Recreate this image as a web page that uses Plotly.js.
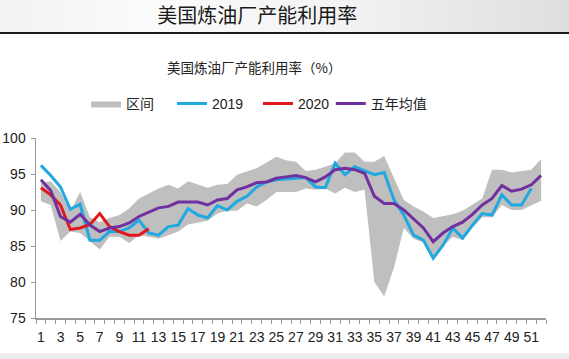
<!DOCTYPE html>
<html>
<head>
<meta charset="utf-8">
<script src="https://cdn.plot.ly/plotly-3.0.1.min.js"></script>
<style>
  html, body { margin: 0; padding: 0; background: #ffffff; }
  #wrap { position: relative; width: 569px; height: 359px; overflow: hidden; background: #ffffff; }
  #band { position: absolute; left: 0; top: 0; width: 569px; height: 32px;
          background: linear-gradient(to right, #f2f2f2 0%, #fbfbfb 25%, #f3f3f3 60%, #dedede 100%);
          border-bottom: 2px solid #1a1a1a; }
  #foot { position: absolute; left: 0; top: 353px; width: 569px; height: 6px; background: #ececec; }
  #chart { position: absolute; left: 0; top: 0; width: 569px; height: 359px; }
</style>
</head>
<body>
<div id="wrap">
  <div id="band"></div>
  <div id="foot"></div>
  <div id="chart"></div>
</div>
<script>
const weeks = [1,2,3,4,5,6,7,8,9,10,11,12,13,14,15,16,17,18,19,20,21,22,23,24,25,26,
               27,28,29,30,31,32,33,34,35,36,37,38,39,40,41,42,43,44,45,46,47,48,49,50,51,52];
const xTickLabels = [1,3,5,7,9,11,13,15,17,19,21,23,25,27,29,31,33,35,37,39,41,43,45,47,49,51];

const rangeUpper = [93.8,94.0,92.5,89.8,92.5,89.0,88.3,88.9,89.3,90.2,91.6,92.3,93.0,93.5,93.0,94.0,93.5,93.1,93.5,93.6,
                    94.9,95.4,95.8,96.6,97.4,96.9,96.7,95.4,95.6,96.0,96.5,98.0,98.0,96.7,96.7,97.5,94.4,91.4,90.5,89.8,
                    88.9,89.2,89.4,89.9,90.7,91.6,95.6,95.6,95.2,95.4,95.6,97.1];
const rangeLower = [91.2,90.7,85.7,87.0,86.8,85.6,84.5,86.3,86.3,85.4,86.5,86.3,86.0,86.5,87.0,88.0,88.3,88.5,89.5,89.9,
                    89.9,90.9,90.5,91.4,92.5,92.5,92.5,93.0,92.8,93.0,92.3,93.1,92.5,92.8,80.0,78.0,82.0,87.5,86.0,85.5,
                    83.0,85.0,86.3,85.8,87.5,89.0,89.0,90.7,90.0,90.0,90.7,91.3];
const y2019 = [96.2,94.8,93.2,90.1,90.8,85.8,85.8,87.0,87.0,87.5,88.6,86.8,86.5,87.7,87.9,90.2,89.3,88.9,90.6,90.0,
               91.2,91.9,93.2,93.9,94.2,94.3,94.4,94.5,93.2,93.1,96.5,94.9,96.0,95.4,94.9,95.2,91.4,89.3,86.5,85.8,
               83.3,85.1,87.5,86.1,87.9,89.5,89.3,92.1,90.7,90.7,93.0,null];
const y2020 = [93.1,92.1,90.7,87.3,87.5,88.0,89.5,87.7,87.0,86.5,86.5,87.4];
const yAvg5 = [94.2,92.7,89.1,88.3,89.4,87.9,87.0,87.5,87.7,88.2,89.1,89.7,90.3,90.5,91.1,91.1,91.1,90.7,91.4,91.6,
               92.8,93.2,93.8,93.9,94.4,94.6,94.8,94.5,93.9,94.6,95.6,95.8,95.6,95.1,91.9,90.9,90.9,90.0,88.7,87.5,
               85.6,86.8,87.7,88.3,89.4,90.7,91.6,93.4,92.6,92.9,93.5,94.8];

const names = ['区间', '2019', '2020', '五年均值'];
const colors = { band: '#bfbfbf', y2019: '#20a9e0', y2020: '#e2181f', avg: '#7030a0' };

const traces = [
  { x: weeks, y: rangeLower, type: 'scatter', mode: 'lines', line: { width: 0, color: colors.band },
    showlegend: false, hoverinfo: 'skip' },
  { x: weeks, y: rangeUpper, type: 'scatter', mode: 'lines', line: { width: 0, color: colors.band },
    fill: 'tonexty', fillcolor: colors.band, name: names[0] },
  { x: weeks, y: y2019, type: 'scatter', mode: 'lines', line: { width: 3, color: colors.y2019 }, name: names[1] },
  { x: weeks.slice(0, y2020.length), y: y2020, type: 'scatter', mode: 'lines', line: { width: 3, color: colors.y2020 }, name: names[2] },
  { x: weeks, y: yAvg5, type: 'scatter', mode: 'lines', line: { width: 3, color: colors.avg }, name: names[3], legend: 'legend2' }
];

const tickFont = { family: 'Liberation Sans, Arial, sans-serif', size: 14, color: '#222' };
const legendFont = { family: 'Liberation Sans, Noto Sans CJK SC, sans-serif', size: 14, color: '#222' };

const layout = {
  width: 569, height: 359,
  margin: { l: 36, r: 23, t: 138, b: 41, pad: 0 },
  paper_bgcolor: 'rgba(0,0,0,0)',
  plot_bgcolor: 'rgba(0,0,0,0)',
  title: {
    text: '美国炼油厂产能利用率',
    font: { family: 'Noto Sans CJK SC, sans-serif', size: 20, color: '#1a1a1a' },
    x: 0.452, xref: 'container', xanchor: 'center',
    y: 0.955, yref: 'container', yanchor: 'middle'
  },
  annotations: [{
    text: '美国炼油厂产能利用率（%）',
    xref: 'paper', yref: 'paper', x: 0.428, y: 1.395, xanchor: 'center', yanchor: 'middle',
    showarrow: false, font: { family: 'Noto Sans CJK SC, sans-serif', size: 13.5, color: '#222' }
  }],
  showlegend: true,
  legend: {
    orientation: 'h', x: 0.098, y: 1.19, xanchor: 'left', yanchor: 'middle', traceorder: 'normal',
    font: legendFont, bgcolor: 'rgba(0,0,0,0)', itemwidth: 30, tracegroupgap: 0,
    entrywidth: 41, entrywidthmode: 'pixels'
  },
  legend2: {
    orientation: 'h', x: 0.578, y: 1.19, xanchor: 'left', yanchor: 'middle',
    font: legendFont, bgcolor: 'rgba(0,0,0,0)', itemwidth: 30
  },
  xaxis: {
    range: [0.5, 52.5], tickmode: 'array', tickvals: xTickLabels, ticktext: xTickLabels.map(String),
    ticks: '', showline: true, linecolor: '#999', linewidth: 1.5, showgrid: false, zeroline: false,
    tickfont: tickFont, ticklabelstandoff: 6, fixedrange: true,
    minor: { tickmode: 'linear', tick0: 0.5, dtick: 1, ticks: 'outside', ticklen: 4, tickcolor: '#999', tickwidth: 1, showgrid: false }
  },
  yaxis: {
    range: [75, 100], tickmode: 'linear', tick0: 75, dtick: 5,
    ticks: 'outside', ticklen: 4, tickcolor: '#999', showline: true, linecolor: '#999', linewidth: 1.5,
    showgrid: false, zeroline: false, tickfont: tickFont, ticklabelstandoff: 2, fixedrange: true
  }
};

Plotly.newPlot('chart', traces, layout, { displayModeBar: false, staticPlot: true });
</script>
</body>
</html>
